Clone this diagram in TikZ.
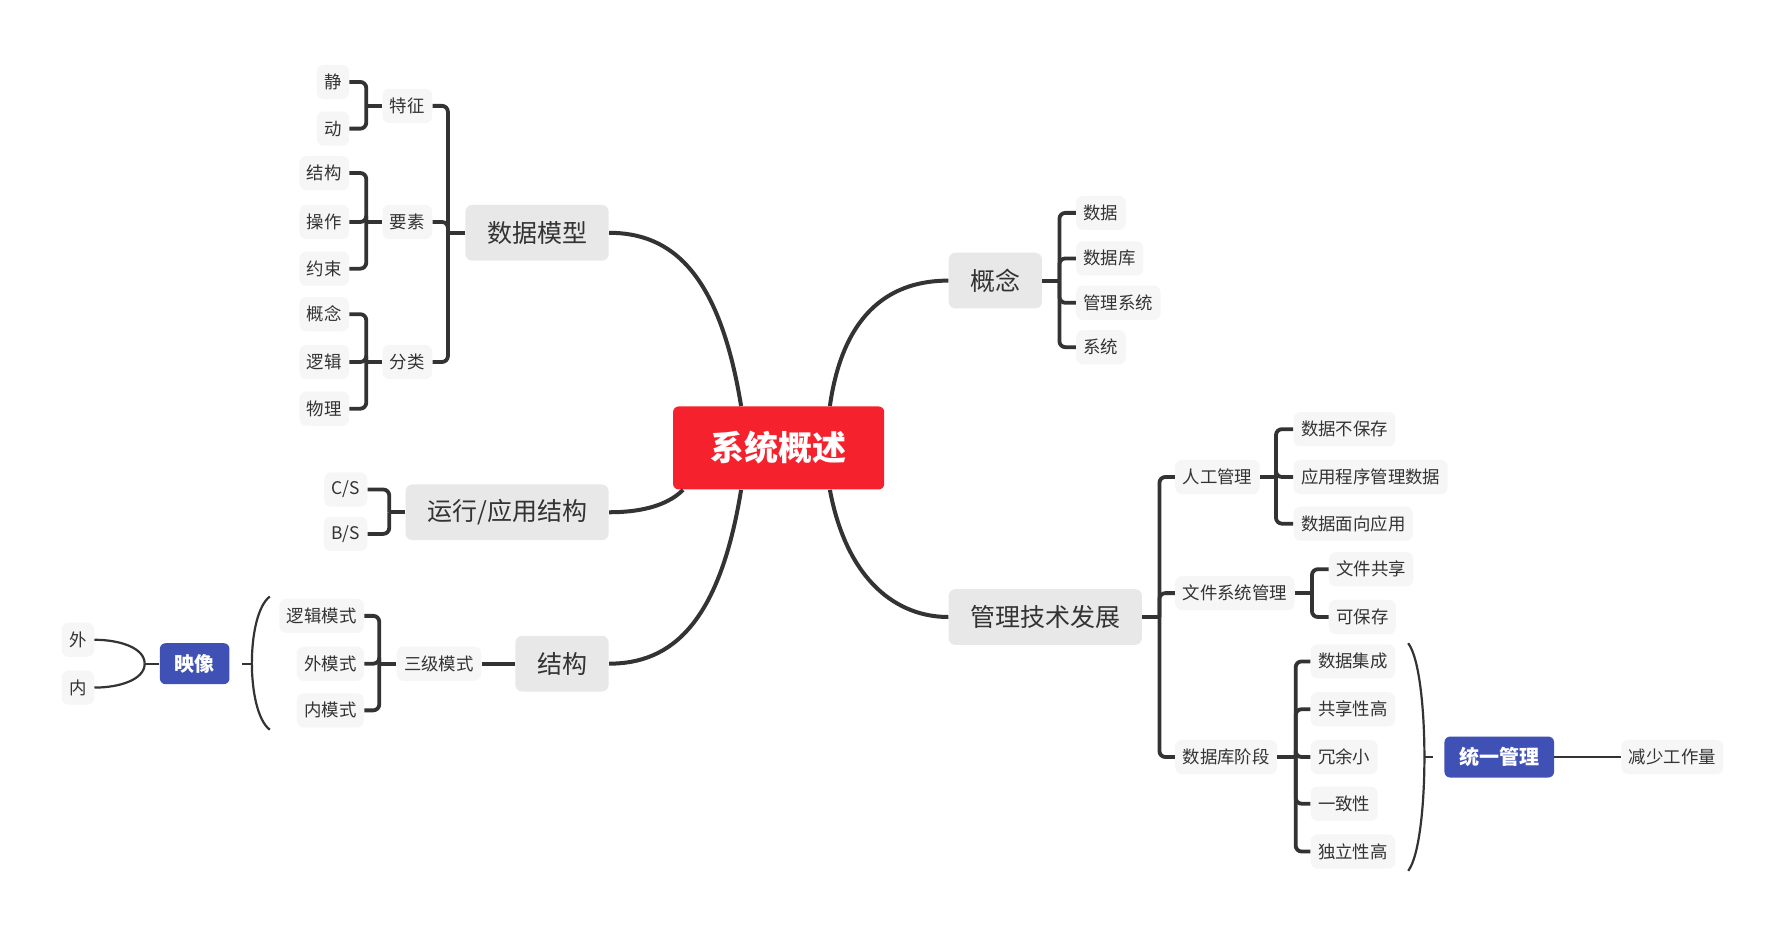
\documentclass[tikz,border=0pt]{standalone}
\usepackage{fontspec}
\setmainfont{Noto Sans CJK SC}
\usetikzlibrary{calc}
\definecolor{linec}{HTML}{333333}
\definecolor{rootred}{HTML}{F5222D}
\definecolor{tagblue}{HTML}{3F51B5}
\definecolor{topicgray}{HTML}{E8E8E8}
\definecolor{leafgray}{HTML}{F6F6F6}

\begin{document}
\begin{tikzpicture}[x=0.02cm,y=-0.02cm,
  root/.style={fill=rootred,text=white,rounded corners=0.1cm,inner xsep=0.66cm,inner ysep=1pt,minimum height=1.46cm,font=\fontsize{17}{20}\selectfont\bfseries},
  topic/.style={fill=topicgray,text=linec,rounded corners=0.12cm,inner xsep=0.38cm,inner ysep=1pt,minimum height=0.98cm,font=\fontsize{12.5}{15}\selectfont},
  leaf/.style={fill=leafgray,text=linec,rounded corners=0.12cm,inner xsep=0.13cm,inner ysep=1pt,minimum height=0.6cm,font=\fontsize{8.7}{10}\selectfont},
  tagbox/.style={fill=tagblue,text=white,rounded corners=0.1cm,inner xsep=0.26cm,inner ysep=1pt,minimum height=0.72cm,font=\fontsize{10}{12}\selectfont\bfseries},
  trunk/.style={draw=linec,line width=2pt},
  tree/.style={draw=linec,line width=1.9pt,rounded corners=3pt},
  slim/.style={draw=linec,line width=1.1pt}]
\fill[white] (0,0) rectangle (1568,820);
\useasboundingbox (0,0) rectangle (1568,820);
% root and main topics
\node[root] (ctr) at (684,393.5) {系统概述};
\node[topic,anchor=east] (dm) at (535,204.5) {数据模型};
\node[topic,anchor=east] (yx) at (535,450) {运行/应用结构};
\node[topic,anchor=east] (jg) at (535,583) {结构};
\node[topic,anchor=west] (gn) at (833,246.5) {概念};
\node[topic,anchor=west] (gl) at (833,542) {管理技术发展};
\draw[trunk] ($(ctr.north)+(-33,0)$) .. controls +(-19,-117) and +(55,0) .. (dm.east);
\draw[trunk] ($(ctr.south)+(-84,0)$) .. controls +(-15,15) and +(25,0) .. (yx.east);
\draw[trunk] ($(ctr.south)+(-33,0)$) .. controls +(-19,117) and +(55,0) .. (jg.east);
\draw[trunk] ($(ctr.north)+(45,0)$) .. controls +(12,-85) and +(-48,0) .. (gn.west);
\draw[trunk] ($(ctr.south)+(45,0)$) .. controls +(15,80) and +(-45,0) .. (gl.west);
% data model
\node[leaf,anchor=east] (tz) at (380,93) {特征};
\node[leaf,anchor=east] (ys) at (380,195) {要素};
\node[leaf,anchor=east] (fl) at (380,318) {分类};
\node[leaf,anchor=east] (jing) at (307,72) {静};
\node[leaf,anchor=east] (dong) at (307,113) {动};
\node[leaf,anchor=east] (jgou) at (307,152) {结构};
\node[leaf,anchor=east] (czuo) at (307,195) {操作};
\node[leaf,anchor=east] (ysu) at (307,236) {约束};
\node[leaf,anchor=east] (gnian) at (307,276) {概念};
\node[leaf,anchor=east] (lji) at (307,318) {逻辑};
\node[leaf,anchor=east] (wli) at (307,359) {物理};
\coordinate (dmb) at ($(dm.west)+(-15,0)$);
\draw[tree] (dm.west) -- (dmb);
\draw[tree] (dmb) |- (tz.east);
\draw[tree] (dmb) |- (ys.east);
\draw[tree] (dmb) |- (fl.east);
\coordinate (tzb) at ($(tz.west)+(-14,0)$);
\draw[tree] (tz.west) -- (tzb);
\draw[tree] (tzb) |- (jing.east);
\draw[tree] (tzb) |- (dong.east);
\coordinate (ysb) at ($(ys.west)+(-14,0)$);
\draw[tree] (ys.west) -- (ysb);
\draw[tree] (ysb) |- (jgou.east);
\draw[tree] (ysb) |- (czuo.east);
\draw[tree] (ysb) |- (ysu.east);
\coordinate (flb) at ($(fl.west)+(-14,0)$);
\draw[tree] (fl.west) -- (flb);
\draw[tree] (flb) |- (gnian.east);
\draw[tree] (flb) |- (lji.east);
\draw[tree] (flb) |- (wli.east);
% run structure
\node[leaf,anchor=east] (cs) at (323,430) {C/S};
\node[leaf,anchor=east] (bs) at (323,469) {B/S};
\coordinate (yxb) at ($(yx.west)+(-14,0)$);
\draw[tree] (yx.west) -- (yxb);
\draw[tree] (yxb) |- (cs.east);
\draw[tree] (yxb) |- (bs.east);
% structure
\node[leaf,anchor=east] (sjms) at (423,583) {三级模式};
\node[leaf,anchor=east] (ljms) at (320,541) {逻辑模式};
\node[leaf,anchor=east] (wms) at (320,583) {外模式};
\node[leaf,anchor=east] (nms) at (320,624) {内模式};
\draw[tree] (jg.west) -- (sjms.east);
\coordinate (sjb) at ($(sjms.west)+(-15,0)$);
\draw[tree] (sjms.west) -- (sjb);
\draw[tree] (sjb) |- (ljms.east);
\draw[tree] (sjb) |- (wms.east);
\draw[tree] (sjb) |- (nms.east);
\draw[slim] (237,524) .. controls (216,540) and (216,625) .. (237,641);
\coordinate (lpar) at (221,583);
\node[tagbox] (yxiang) at (171,583) {映像};
\draw[slim] (lpar) -- ++(-8,0);
\node[leaf,anchor=east] (wai) at (83,562) {外};
\node[leaf,anchor=east] (nei) at (83,604) {内};
\coordinate (yxj) at ($(yxiang.west)+(-13,0)$);
\draw[slim] (yxiang.west) -- (yxj);
\draw[slim] (yxj) .. controls +(0,-14) and +(22,0) .. (wai.east);
\draw[slim] (yxj) .. controls +(0,14) and +(22,0) .. (nei.east);
% concept
\node[leaf,anchor=west] (sj) at (945,187) {数据};
\node[leaf,anchor=west] (sjk) at (945,227) {数据库};
\node[leaf,anchor=west] (glxt) at (945,266) {管理系统};
\node[leaf,anchor=west] (xt) at (945,305) {系统};
\coordinate (gnb) at ($(gn.east)+(15,0)$);
\draw[tree] (gn.east) -- (gnb);
\draw[tree] (gnb) |- (sj.west);
\draw[tree] (gnb) |- (sjk.west);
\draw[tree] (gnb) |- (glxt.west);
\draw[tree] (gnb) |- (xt.west);
% management development
\node[leaf,anchor=west] (rg) at (1032,419) {人工管理};
\node[leaf,anchor=west] (wj) at (1032,521) {文件系统管理};
\node[leaf,anchor=west] (kj) at (1032,665) {数据库阶段};
\coordinate (glb) at ($(gl.east)+(15,0)$);
\draw[tree] (gl.east) -- (glb);
\draw[tree] (glb) |- (rg.west);
\draw[tree] (glb) |- (wj.west);
\draw[tree] (glb) |- (kj.west);
\node[leaf,anchor=west] (bbc) at (1136,377) {数据不保存};
\node[leaf,anchor=west] (yygl) at (1136,419) {应用程序管理数据};
\node[leaf,anchor=west] (mxyy) at (1136,460) {数据面向应用};
\coordinate (rgb) at ($(rg.east)+(14,0)$);
\draw[tree] (rg.east) -- (rgb);
\draw[tree] (rgb) |- (bbc.west);
\draw[tree] (rgb) |- (yygl.west);
\draw[tree] (rgb) |- (mxyy.west);
\node[leaf,anchor=west] (wjgx) at (1167,500) {文件共享};
\node[leaf,anchor=west] (kbc) at (1167,542) {可保存};
\coordinate (wjb) at ($(wj.east)+(15,0)$);
\draw[tree] (wj.east) -- (wjb);
\draw[tree] (wjb) |- (wjgx.west);
\draw[tree] (wjb) |- (kbc.west);
\node[leaf,anchor=west] (jc) at (1151,581) {数据集成};
\node[leaf,anchor=west] (gx) at (1151,623) {共享性高};
\node[leaf,anchor=west] (ry) at (1151,665) {冗余小};
\node[leaf,anchor=west] (yz) at (1151,706) {一致性};
\node[leaf,anchor=west] (dl) at (1151,748) {独立性高};
\coordinate (kjb) at ($(kj.east)+(16,0)$);
\draw[tree] (kj.east) -- (kjb);
\draw[tree] (kjb) |- (jc.west);
\draw[tree] (kjb) |- (gx.west);
\draw[tree] (kjb) |- (ry.west);
\draw[tree] (kjb) |- (yz.west);
\draw[tree] (kjb) |- (dl.west);
\draw[slim] (1237,565) .. controls (1256,590) and (1256,740) .. (1237,765);
\coordinate (rpar) at (1251,665);
\draw[slim] (rpar) -- ++(8,0);
\node[tagbox] (tygl) at (1317,665) {统一管理};
\node[leaf,anchor=west] (jsgz) at (1424,665) {减少工作量};
\draw[slim] (tygl.east) -- (jsgz.west);
\end{tikzpicture}
\end{document}
